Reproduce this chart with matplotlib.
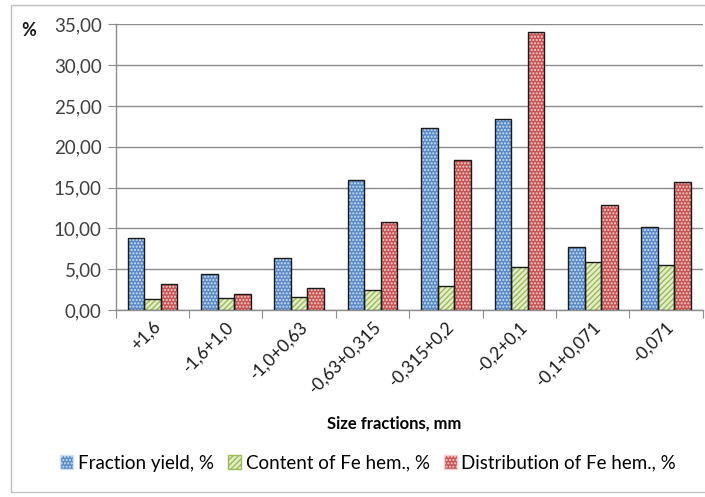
import matplotlib
matplotlib.use("Agg")
import matplotlib.pyplot as plt
from matplotlib.patches import Rectangle, Patch
from matplotlib.ticker import FuncFormatter, MultipleLocator
import numpy as np

plt.rcParams['font.family'] = ['Lato', 'DejaVu Sans']
plt.rcParams['hatch.linewidth'] = 1.0

categories = ['+1,6', '-1,6+1,0', '-1,0+0,63', '-0,63+0,315',
              '-0,315+0,2', '-0,2+0,1', '-0,1+0,071', '-0,071']
fraction_yield = [8.78, 4.41, 6.41, 15.95, 22.25, 23.36, 7.72, 10.17]
fe_content = [1.31, 1.51, 1.55, 2.45, 2.98, 5.23, 5.84, 5.47]
fe_distribution = [3.14, 1.92, 2.73, 10.82, 18.33, 34.0, 12.82, 15.68]

series = [
    ('Fraction yield, %', fraction_yield, '#5a8ac6', '#cfe0f4', '.....'),
    ('Content of Fe hem., %', fe_content, '#e4edc8', '#9bbb59', '//////'),
    ('Distribution of Fe hem., %', fe_distribution, '#c65452', '#f2d0cf', '.....'),
]

fig = plt.figure(figsize=(7.05, 4.97), dpi=100)
ax = fig.add_axes([0.1641, 0.3763, 0.8329, 0.5748])

# light outer frame of the chart area
fig.patches.append(Rectangle((11 / 705, 1 - 492 / 497), 1.2, (492 - 5) / 497,
                             transform=fig.transFigure, fill=False,
                             edgecolor='#bfbfbf', linewidth=1.0, zorder=0))

x = np.arange(len(categories))
width = 0.225
handles = []
for i, (label, vals, face, hatch_col, hatch) in enumerate(series):
    pos = x + (i - 1) * width
    ax.bar(pos, vals, width, color=face, edgecolor=hatch_col, hatch=hatch,
           linewidth=0, zorder=3)
    ax.bar(pos, vals, width, fill=False, edgecolor='#1a1a1a',
           linewidth=1.0, zorder=4)
    handles.append(Patch(facecolor=face, edgecolor=hatch_col, hatch=hatch,
                         label=label))

ax.set_xlim(-0.5, len(categories) - 0.5)
ax.set_ylim(0, 35)
ax.yaxis.set_major_locator(MultipleLocator(5))
ax.yaxis.set_major_formatter(FuncFormatter(lambda v, p: f'{v:.2f}'.replace('.', ',')))
ax.grid(axis='y', color='#8c8c8c', linewidth=1.0, zorder=0)
ax.set_axisbelow(True)

for s in ['top', 'right']:
    ax.spines[s].set_visible(False)
for s in ['left', 'bottom']:
    ax.spines[s].set_color('#8c8c8c')
    ax.spines[s].set_linewidth(1.0)

ax.tick_params(axis='y', length=6, color='#8c8c8c', labelsize=13.5,
               labelcolor='#404040', pad=4)
ax.set_xticks(np.arange(len(categories) + 1) - 0.5)
ax.set_xticklabels([])
ax.tick_params(axis='x', length=6, color='#8c8c8c')
ax.set_xticks(x, minor=True)
ax.set_xticklabels(categories, minor=True, rotation=45, ha='right',
                   va='top', rotation_mode='anchor', fontsize=12.5,
                   color='#1a1a1a')
ax.tick_params(axis='x', which='minor', length=0, pad=6)

ax.text(-0.16, 0.977, '%', transform=ax.transAxes, fontsize=13,
        fontweight='bold', color='#1a1a1a', ha='left', va='center')

ax.set_xlabel('Size fractions, mm', fontsize=12, fontweight='bold',
              color='#000000')
ax.xaxis.set_label_coords(0.474, -0.37)

fig.legend(handles=handles, loc='center', bbox_to_anchor=(0.522, 1 - 463 / 497),
           ncol=3, frameon=False, fontsize=13.5, handlelength=0.7,
           handleheight=0.7, handletextpad=0.25, columnspacing=0.75)

fig.savefig('out.png', dpi=100)
